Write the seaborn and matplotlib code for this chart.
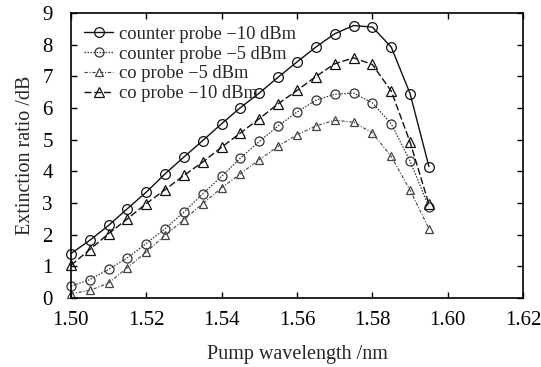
import numpy as np
import pandas as pd
import matplotlib
matplotlib.use("Agg")
import matplotlib.pyplot as plt
import seaborn as sns

wavelength = [1.500, 1.505, 1.510, 1.515, 1.520, 1.525, 1.530, 1.535, 1.540, 1.545,
              1.550, 1.555, 1.560, 1.565, 1.570, 1.575, 1.580, 1.585, 1.590, 1.595]
counter_m10 = [1.40, 1.82, 2.29, 2.82, 3.34, 3.92, 4.45, 4.97, 5.50, 6.01,
               6.47, 6.97, 7.45, 7.92, 8.34, 8.60, 8.55, 7.92, 6.45, 4.15]
counter_m5 = [0.37, 0.58, 0.90, 1.27, 1.72, 2.19, 2.71, 3.29, 3.84, 4.42,
              4.94, 5.43, 5.87, 6.24, 6.43, 6.47, 6.16, 5.50, 4.32, 2.87]
co_m5 = [0.14, 0.24, 0.47, 0.96, 1.45, 1.98, 2.47, 2.98, 3.48, 3.92,
         4.37, 4.79, 5.15, 5.43, 5.61, 5.55, 5.21, 4.47, 3.40, 2.19]
co_m10 = [1.03, 1.53, 2.03, 2.50, 2.98, 3.42, 3.87, 4.29, 4.76, 5.21,
          5.66, 6.13, 6.55, 6.99, 7.39, 7.58, 7.37, 6.53, 4.92, 2.96]
labels = ["counter probe \u221210 dBm", "counter probe \u22125 dBm",
          "co probe \u22125 dBm", "co probe \u221210 dBm"]
xticks = [1.50, 1.52, 1.54, 1.56, 1.58, 1.60, 1.62]
yticks = list(range(0, 10))

sns.set_theme(style="ticks")
plt.rcParams['font.family'] = ['Liberation Serif', 'DejaVu Serif']

fig = plt.figure(figsize=(5.41, 3.67), dpi=100)
ax = fig.add_axes([0.131, 0.188, 0.836, 0.777])

series = [counter_m10, counter_m5, co_m5, co_m10]
markers = ['o', 'o', '^', '^']
styles = ['-', (0, (1.2, 1.2)), (0, (3, 1.5, 1, 1.5)), (0, (5, 2))]
colors = ['#111111', '#333333', '#444444', '#111111']
widths = [1.0, 0.9, 0.8, 1.0]
msizes = [7, 6.5, 6, 6.5]

for vals, lab, mk, ls, c, lw, ms in zip(series, labels, markers, styles, colors, widths, msizes):
    df = pd.DataFrame({"x": wavelength, "y": vals})
    sns.lineplot(data=df, x="x", y="y", ax=ax, label=lab, color=c,
                 marker=mk, markersize=ms, markerfacecolor='none',
                 markeredgecolor=c, markeredgewidth=0.9, linewidth=lw,
                 linestyle=ls, clip_on=False)

ax.set_xlim(1.50, 1.62)
ax.set_ylim(0, 9)
ax.set_xticks(xticks)
ax.set_xticklabels([f"{t:.2f}" for t in xticks])
ax.set_yticks(yticks)
ax.tick_params(direction='in', top=True, right=True, labelsize=15,
               length=4, width=1, colors='black')
ax.tick_params(axis='x', pad=9)
ax.tick_params(axis='y', pad=13)
for s in ax.spines.values():
    s.set_linewidth(1.2)
    s.set_color('black')
ax.set_xlabel("Pump wavelength /nm", fontsize=14.5, labelpad=11)
ax.set_ylabel("Extinction ratio /dB", fontsize=14.5, labelpad=5)

leg = ax.legend(loc='upper left', frameon=False, fontsize=13.3, handlelength=1.6,
                handletextpad=0.3, labelspacing=0.15, borderaxespad=0.3,
                bbox_to_anchor=(0.0, 1.0))

fig.savefig("out.png", dpi=100)
